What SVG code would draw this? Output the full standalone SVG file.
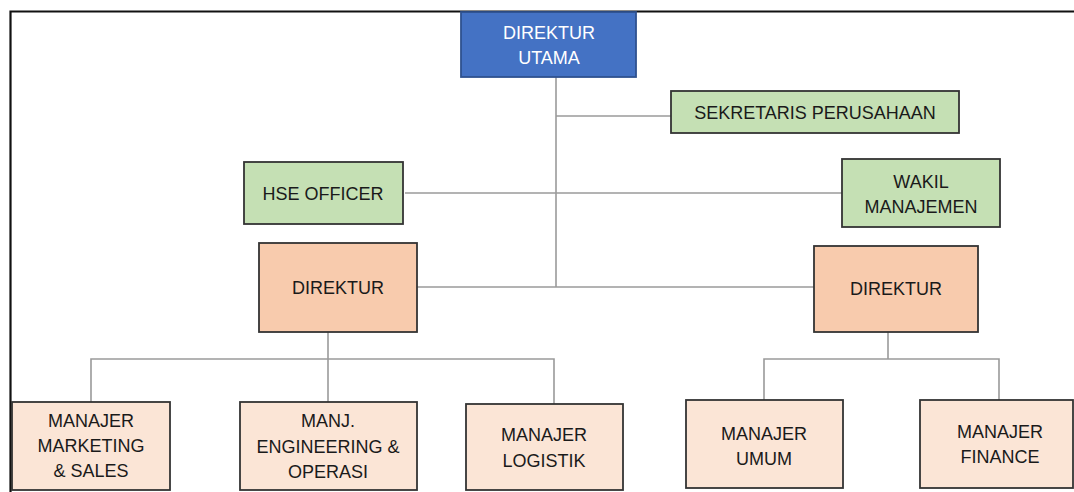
<svg xmlns="http://www.w3.org/2000/svg" width="1074" height="492" viewBox="0 0 1074 492">
<style>
  .box{stroke:#333;stroke-width:1.8}
  .blue{fill:#4472C4;stroke:#2F528F}
  .green{fill:#C5E0B4}
  .dir{fill:#F8CBAD}
  .mgr{fill:#FBE5D6}
  text{font-family:"Liberation Sans",Arial,sans-serif;font-size:18px;fill:#1a1a1a;text-anchor:middle;dominant-baseline:central}
  .w{fill:#ffffff}
  .conn line,.conn polyline{stroke:#9a9a9a;stroke-width:1.6;fill:none}
  .frame{stroke:#111;stroke-width:2.2;fill:none}
</style>
<rect width="1074" height="492" fill="#ffffff"/>
<g id="frame"><polyline class="frame" points="10.5,492 10.5,11.5 1074,11.5"/></g>
<g id="connectors" class="conn">
  <line x1="556" y1="77" x2="556" y2="287"/>
  <line x1="556" y1="116" x2="671" y2="116"/>
  <line x1="405" y1="193" x2="842" y2="193"/>
  <line x1="417" y1="287" x2="814" y2="287"/>
  <line x1="328" y1="332" x2="328" y2="402"/>
  <polyline points="91,402 91,359 554,359 554,404"/>
  <line x1="888" y1="332" x2="888" y2="359"/>
  <polyline points="764,400 764,359 999,359 999,400"/>
</g>
<g id="direktur-utama"><rect class="box blue" x="461" y="12" width="175" height="65"/><text class="w" x="549" y="33">DIREKTUR</text><text class="w" x="549" y="58">UTAMA</text></g>
<g id="sekretaris"><rect class="box green" x="671" y="91" width="288" height="42"/><text x="815" y="113">SEKRETARIS PERUSAHAAN</text></g>
<g id="hse"><rect class="box green" x="244" y="162" width="159" height="62"/><text x="323" y="194">HSE OFFICER</text></g>
<g id="wakil"><rect class="box green" x="842" y="159" width="158" height="68"/><text x="921" y="182">WAKIL</text><text x="921" y="207">MANAJEMEN</text></g>
<g id="direktur-kiri"><rect class="box dir" x="259" y="243" width="158" height="89"/><text x="338" y="288">DIREKTUR</text></g>
<g id="direktur-kanan"><rect class="box dir" x="814" y="246" width="164" height="86"/><text x="896" y="289">DIREKTUR</text></g>
<g id="manajer-marketing"><rect class="box mgr" x="12" y="402" width="158" height="88"/><text x="91" y="421">MANAJER</text><text x="91" y="446">MARKETING</text><text x="91" y="471">&amp; SALES</text></g>
<g id="manajer-engineering"><rect class="box mgr" x="240" y="402" width="177" height="88"/><text x="328" y="421">MANJ.</text><text x="328" y="447">ENGINEERING &amp;</text><text x="328" y="472">OPERASI</text></g>
<g id="manajer-logistik"><rect class="box mgr" x="466" y="404" width="157" height="86"/><text x="544" y="435">MANAJER</text><text x="544" y="461">LOGISTIK</text></g>
<g id="manajer-umum"><rect class="box mgr" x="686" y="400" width="157" height="88"/><text x="764" y="434">MANAJER</text><text x="764" y="459">UMUM</text></g>
<g id="manajer-finance"><rect class="box mgr" x="920" y="400" width="153" height="88"/><text x="1000" y="432">MANAJER</text><text x="1000" y="457">FINANCE</text></g>
</svg>
